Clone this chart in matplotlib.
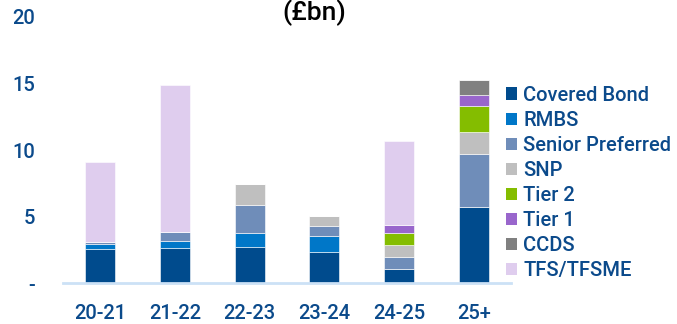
import matplotlib.pyplot as plt
from matplotlib.patches import Patch

# Maturity buckets
periods = ['20-21', '21-22', '22-23', '23-24', '24-25', '25+']

# Stacked values (£bn), bottom to top
covered_bond = [2.55, 2.63, 2.75, 2.38, 1.10, 5.75]
rmbs = [0.43, 0.57, 1.05, 1.17, 0.0, 0.0]
senior_pref = [0.12, 0.65, 2.10, 0.75, 0.85, 3.93]
snp = [0.0, 0.0, 1.55, 0.75, 0.93, 1.65]
tier2 = [0.0, 0.0, 0.0, 0.0, 0.93, 1.95]
tier1 = [0.0, 0.0, 0.0, 0.0, 0.57, 0.85]
ccds = [0.0, 0.0, 0.0, 0.0, 0.0, 1.12]
tfs = [5.98, 11.03, 0.0, 0.0, 6.28, 0.0]

series = [
    ('Covered Bond', covered_bond, '#004B8D'),
    ('RMBS', rmbs, '#0077C8'),
    ('Senior Preferred', senior_pref, '#6F8DB9'),
    ('SNP', snp, '#BFBFBF'),
    ('Tier 2', tier2, '#84BD00'),
    ('Tier 1', tier1, '#9966CC'),
    ('CCDS', ccds, '#808080'),
    ('TFS/TFSME', tfs, '#DFCDEE'),
]

txt_color = '#0B4A8B'
plt.rcParams['font.family'] = ['Roboto', 'DejaVu Sans']

fig = plt.figure(figsize=(6.77, 3.24), dpi=100)
ax = fig.add_axes([0.093, 0.1256, 0.662, 0.822])

x = list(range(len(periods)))
bottom = [0.0] * len(periods)
handles = []
for name, vals, col in series:
    ax.bar(x, vals, width=0.4, bottom=bottom, color=col,
           edgecolor='white', linewidth=0.4)
    bottom = [b + v for b, v in zip(bottom, vals)]
    handles.append(Patch(facecolor=col, edgecolor='none', label=name))

ax.set_xlim(-0.5, 5.5)
ax.set_ylim(0, 20)
ax.set_yticks([0, 5, 10, 15, 20])
ax.set_yticklabels(['-', '5', '10', '15', '20'])
ax.set_xticks(x)
ax.set_xticklabels(periods)

for s in ['top', 'right', 'left']:
    ax.spines[s].set_visible(False)
ax.spines['bottom'].set_color('#CCE1F6')
ax.spines['bottom'].set_linewidth(2)
ax.tick_params(axis='both', length=0, labelsize=14.5, colors=txt_color)
ax.tick_params(axis='x', pad=15)
ax.tick_params(axis='y', pad=20)
for lab in ax.get_xticklabels() + ax.get_yticklabels():
    lab.set_fontweight('medium')

leg = ax.legend(handles=handles, loc='upper left', bbox_to_anchor=(0.989, 0.742),
                frameon=False, fontsize=14.5, handlelength=0.55, handleheight=0.55,
                handletextpad=0.3, labelspacing=0.3, borderaxespad=0, borderpad=0)
for t in leg.get_texts():
    t.set_color(txt_color)
    t.set_fontweight('medium')

fig.text(0.464, 0.962, '(£bn)', ha='center', va='center', fontsize=19,
         fontweight='medium', color='black')

fig.savefig('out.png', dpi=100)
